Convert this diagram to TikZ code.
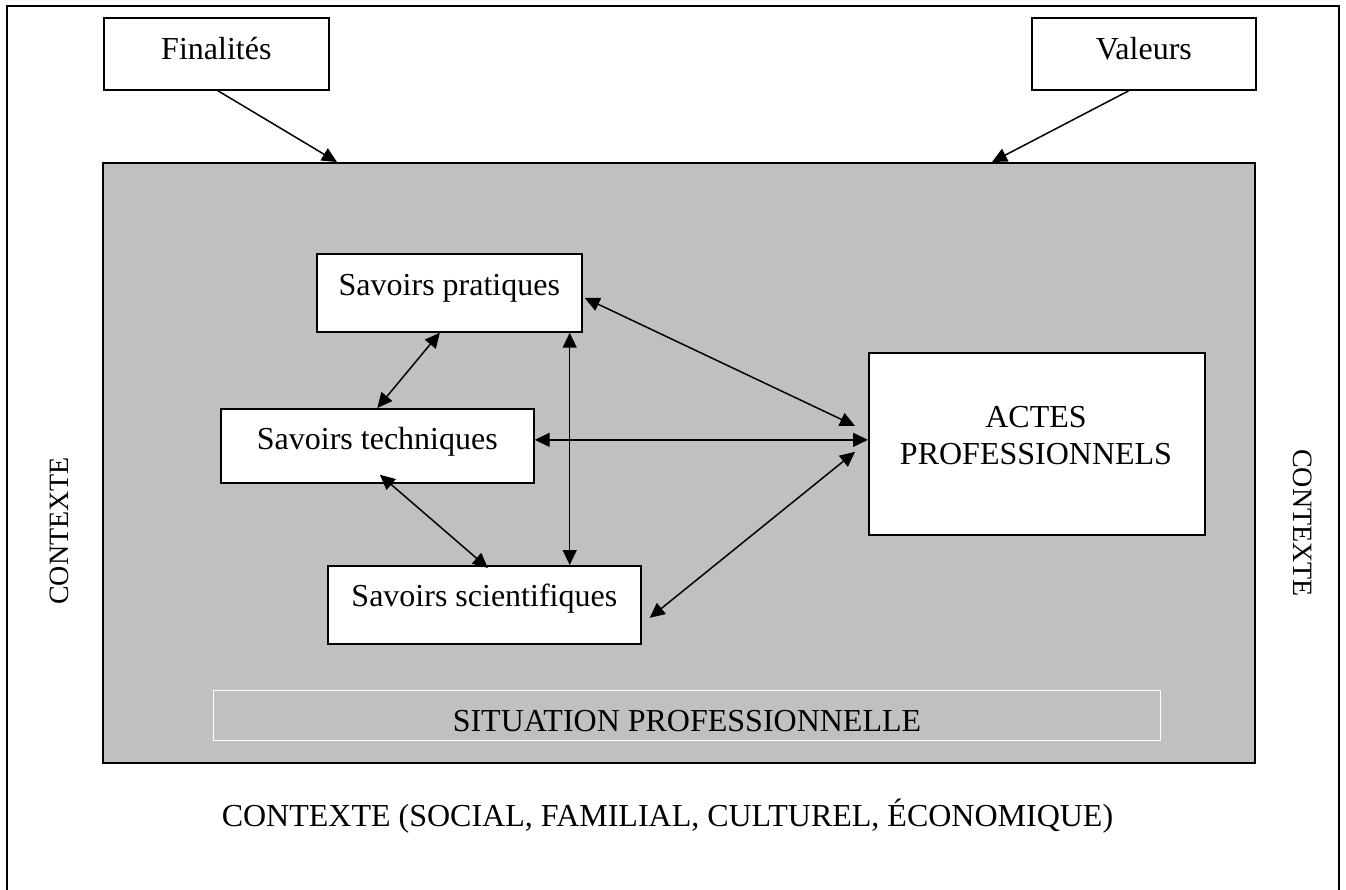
\documentclass[tikz,border=0pt]{standalone}
\usepackage{fontspec}
\setmainfont{Liberation Serif}
\usetikzlibrary{arrows.meta,calc}
\definecolor{panelgray}{RGB}{192,192,192}
\begin{document}
\begin{tikzpicture}[x=0.5pt,y=-0.5pt,
  txt/.style={font=\fontsize{16}{18.5}\selectfont},
  card/.style={txt, draw=black, fill=white, line width=0.85pt, inner sep=0pt, anchor=north west},
  link/.style={line width=0.75pt, {Triangle[length=7.5pt,width=7pt]}-{Triangle[length=7.5pt,width=7pt]}},
  feed/.style={line width=0.75pt, -{Triangle[length=7.5pt,width=7pt]}},
  sidelabel/.style={font=\fontsize{14}{17}\selectfont, inner sep=0pt},
]
\useasboundingbox (0,0) rectangle (1346,890);

% outer frame
\draw[line width=0.75pt] (7,6) rectangle (1339,894);

% grey working area
\node[draw=black, fill=panelgray, line width=1.1pt, inner sep=0pt, anchor=north west,
      minimum width=576pt, minimum height=300pt] (scene) at (102,162) {};

% top boxes
\node[card, minimum width=112.5pt, text height=21pt, text depth=15pt] (fin) at (103,17) {Finalités};
\node[card, minimum width=112pt, text height=21pt, text depth=15pt] (val) at (1031,17) {Valeurs};

% knowledge boxes
\node[card, minimum width=132.5pt, text height=21pt, text depth=18pt] (prat) at (316,253) {Savoirs pratiques};
\node[card, minimum width=156.5pt, text height=20.5pt, text depth=16.5pt] (tech) at (220,408) {Savoirs techniques};
\node[card, minimum width=156.5pt, text height=20.5pt, text depth=18.5pt] (sci) at (327,565) {Savoirs scientifiques};

% professional acts
\node[card, minimum width=168pt, minimum height=91pt] (acts) at (868,352) {};
\node[txt, align=center, inner sep=0pt] (actstext) at (1036,436) {ACTES\\PROFESSIONNELS};

% situation strip
\node[txt, draw=white, line width=0.5pt, inner sep=0pt, anchor=north west,
      minimum width=473.5pt, text height=20.5pt, text depth=4.5pt] (situ) at (213,690) {SITUATION PROFESSIONNELLE};

% context labels
\node[txt, anchor=base, inner sep=0pt] (ctxbottom) at (667.5,826) {CONTEXTE (SOCIAL, FAMILIAL, CULTUREL, ÉCONOMIQUE)};
\node[sidelabel, rotate=90] (ctxleft) at (59,531) {CONTEXTE};
\node[sidelabel, rotate=-90] (ctxright) at (1303,523) {CONTEXTE};

% influences from above
\draw[feed] ($(fin.south)+(1.5,0)$) -- ($(scene.north west)+(235,0)$);
\draw[feed] ($(val.south)+(-15,0)$) -- ($(scene.north west)+(890,0)$);

% links between knowledge types
\draw[link] ($(prat.south)+(-9.5,0)$) -- (tech.north);
\coordinate (vtop) at ($(prat.south east)+(-13,0)$);
\draw[link] (vtop) -- (vtop |- sci.north);
\draw[link] ($(tech.south)+(2.5,-9)$) -- ($(sci.north)+(3.5,3)$);

% links to professional acts
\coordinate (hmid) at ($(tech.east)+(0,-6)$);
\draw[link] (hmid) -- (hmid -| acts.west);
\draw[link] ($(prat.east)+(2,5)$) -- ($(acts.west)+(-13,-18)$);
\draw[link] ($(sci.east)+(8,13)$) -- ($(acts.west)+(-13,8)$);
\end{tikzpicture}
\end{document}
